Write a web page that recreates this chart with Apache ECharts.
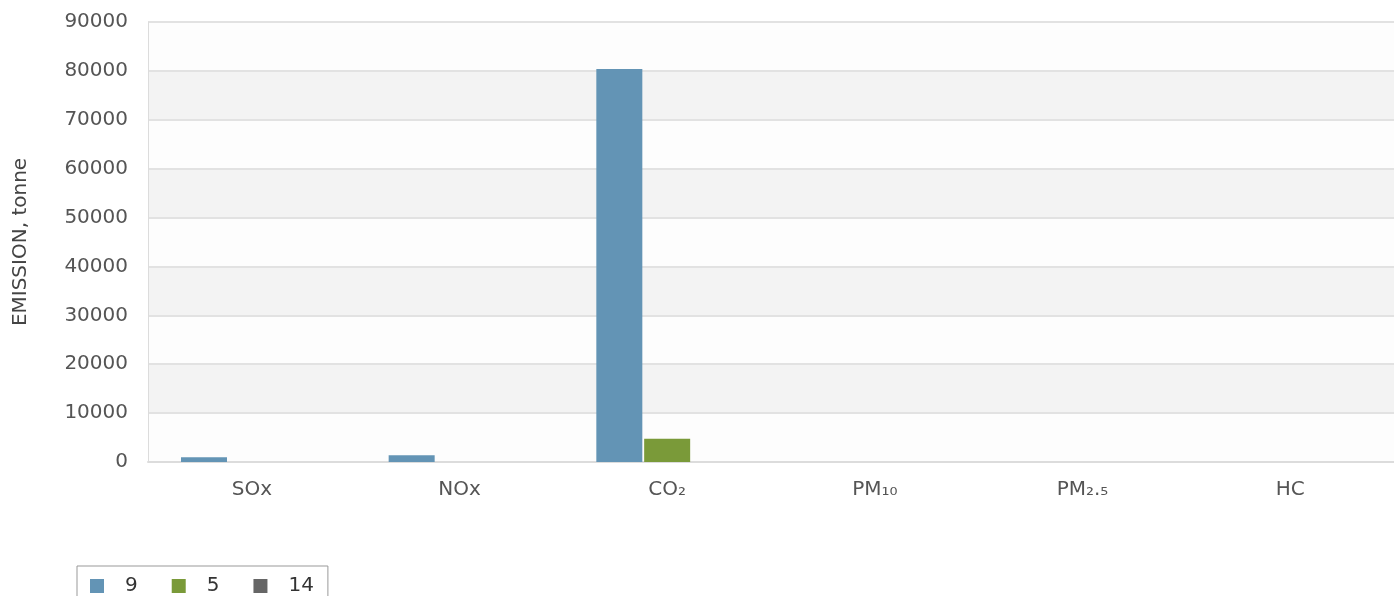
<!DOCTYPE html>
<html><head><meta charset="utf-8">
<script src="https://cdn.jsdelivr.net/npm/echarts@6/dist/echarts.min.js"></script>
<style>html,body{margin:0;padding:0;background:#fff}#c{width:1394px;height:596px}</style>
</head><body><div id="c"></div>
<script>
const categories = ['SOx', 'NOx', 'CO₂', 'PM₁₀', 'PM₂.₅', 'HC'];
const seriesNames = ['9', '5', '14'];
const values9 = [960, 1370, 80400, 0, 0, 0];
const values5 = [0, 0, 4780, 0, 0, 0];
const values14 = [0, 0, 0, 0, 0, 0];
const yTicks = [0, 10000, 20000, 30000, 40000, 50000, 60000, 70000, 80000, 90000];
const colors = ['#6394b5', '#7a9a39', '#666666'];

const FONT = 'DejaVu Sans';
const chart = echarts.init(document.getElementById('c'), null, {renderer: 'canvas'});
const mk = (name, data, i) => ({
  name, type: 'bar', data, barWidth: 46, barGap: '4%',
  itemStyle: {color: colors[i]},
  emphasis: {disabled: true}
});
chart.setOption({
  animation: false,
  textStyle: {fontFamily: FONT},
  grid: {left: 148, right: -6, top: 22, bottom: 134, containLabel: false},
  legend: {
    left: 77, top: 566, orient: 'horizontal',
    data: seriesNames,
    icon: 'rect', itemWidth: 14, itemHeight: 14, itemGap: 34,
    borderColor: '#999', borderWidth: 1, padding: [10, 14, 10, 13],
    textStyle: {fontFamily: FONT, fontSize: 20, color: '#333', padding: [0, 0, 0, 16]}
  },
  xAxis: {
    type: 'category', data: categories,
    axisLine: {show: true, lineStyle: {color: '#dcdcdc', width: 2}},
    axisTick: {show: false},
    axisLabel: {fontFamily: FONT, fontSize: 20, color: '#555', margin: 18}
  },
  yAxis: {
    type: 'value', min: yTicks[0], max: yTicks[yTicks.length - 1], interval: 10000,
    name: 'EMISSION, tonne', nameLocation: 'middle', nameGap: 117, nameRotate: 90,
    nameTextStyle: {fontFamily: FONT, fontSize: 20, color: '#444'},
    axisLine: {show: true, lineStyle: {color: '#dcdcdc', width: 1}},
    axisTick: {show: false},
    axisLabel: {fontFamily: FONT, fontSize: 20, color: '#555', margin: 20, formatter: v => String(v)},
    splitLine: {show: true, lineStyle: {color: '#e2e2e2', width: 2}},
    splitArea: {show: true, areaStyle: {color: ['#fdfdfd', '#f3f3f3']}}
  },
  series: [mk(seriesNames[0], values9, 0), mk(seriesNames[1], values5, 1), mk(seriesNames[2], values14, 2)]
});
</script></body></html>
